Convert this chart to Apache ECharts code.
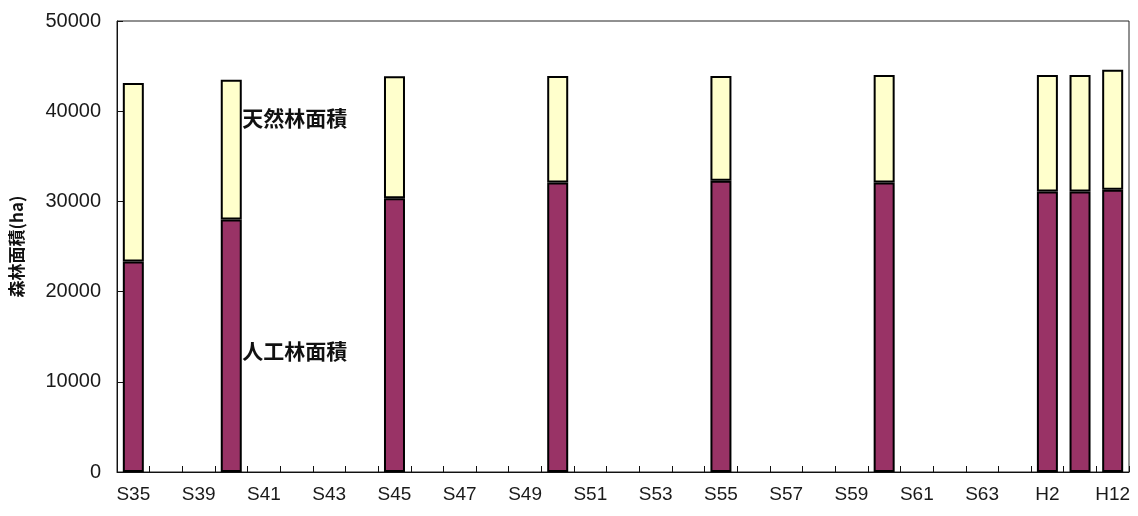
<!DOCTYPE html>
<html><head><meta charset="utf-8">
<script src="https://cdn.jsdelivr.net/npm/echarts@6/dist/echarts.min.js"></script>
<style>html,body{margin:0;padding:0;background:#fff}#c{width:1138px;height:516px}</style>
</head><body><div id="c"></div>
<script>
const categories = ['S35','S37','S39','S40','S41','S42','S43','S44','S45','S46','S47','S48','S49','S50','S51','S52','S53','S54','S55','S56','S57','S58','S59','S60','S61','S62','S63','H1','H2','H7','H12'];
const plantedName = '人工林面積';
const naturalName = '天然林面積';
const planted = {S35:23330,S40:28000,S45:30350,S50:32100,S55:32300,S60:32100,H2:31100,H7:31100,H12:31300};
const natural = {S35:19800,S40:15500,S45:13530,S50:11800,S55:11600,S60:11900,H2:12900,H7:12900,H12:13300};
const yTicks = {min:0,max:50000,interval:10000};
const yName = '森林面積(ha)';
const labelAnchor = {cat:'S40', natural:39200, planted:13400};

const plantedData = categories.map(c => planted[c] === undefined ? '-' : planted[c]);
const naturalData = categories.map(c => natural[c] === undefined ? '-' : natural[c]);
const font = 'Liberation Sans, Arial, sans-serif';
const cjk = '"Noto Sans CJK JP", sans-serif';

const chart = echarts.init(document.getElementById('c'));
const annot = (name, val) => ({
  symbol:'circle', symbolSize:0,
  data:[{coord:[labelAnchor.cat, val], value:name}],
  label:{show:true, position:'right', distance:11, formatter:name, color:'#111', fontSize:21, fontFamily:cjk, fontWeight:'bold'}
});
chart.setOption({
  animation:false,
  backgroundColor:'#fff',
  grid:{left:117, right:9, top:21, bottom:44, show:true, borderColor:'#222', borderWidth:1, backgroundColor:'transparent', outerBoundsMode:'none', containLabel:false},
  xAxis:{type:'category', data:categories,
    axisLine:{lineStyle:{color:'#111', width:1}},
    axisTick:{show:true, inside:true, length:6, interval:0, alignWithLabel:false, lineStyle:{color:'#111'}},
    axisLabel:{interval:1, color:'#1a1a1a', fontSize:19, fontFamily:font, margin:13},
    splitLine:{show:false}},
  yAxis:{type:'value', min:yTicks.min, max:yTicks.max, interval:yTicks.interval,
    name:yName, nameLocation:'middle', nameGap:92, nameRotate:90,
    nameTextStyle:{fontSize:17, fontFamily:cjk, fontWeight:'bold', color:'#111'},
    axisLine:{show:true, lineStyle:{color:'#111', width:1}},
    axisTick:{show:true, inside:true, length:6, lineStyle:{color:'#111'}},
    axisLabel:{color:'#1a1a1a', fontSize:20, fontFamily:font, margin:16, formatter:v => String(v)},
    splitLine:{show:false}},
  series:[
    {name:plantedName, type:'bar', stack:'t', data:plantedData, barWidth:21,
     itemStyle:{color:'#993366', borderColor:'#000', borderWidth:2},
     markPoint:annot(plantedName, labelAnchor.planted)},
    {name:naturalName, type:'bar', stack:'t', data:naturalData, barWidth:21,
     itemStyle:{color:'#FFFFCC', borderColor:'#000', borderWidth:2},
     markPoint:annot(naturalName, labelAnchor.natural)}
  ]
});
</script></body></html>
